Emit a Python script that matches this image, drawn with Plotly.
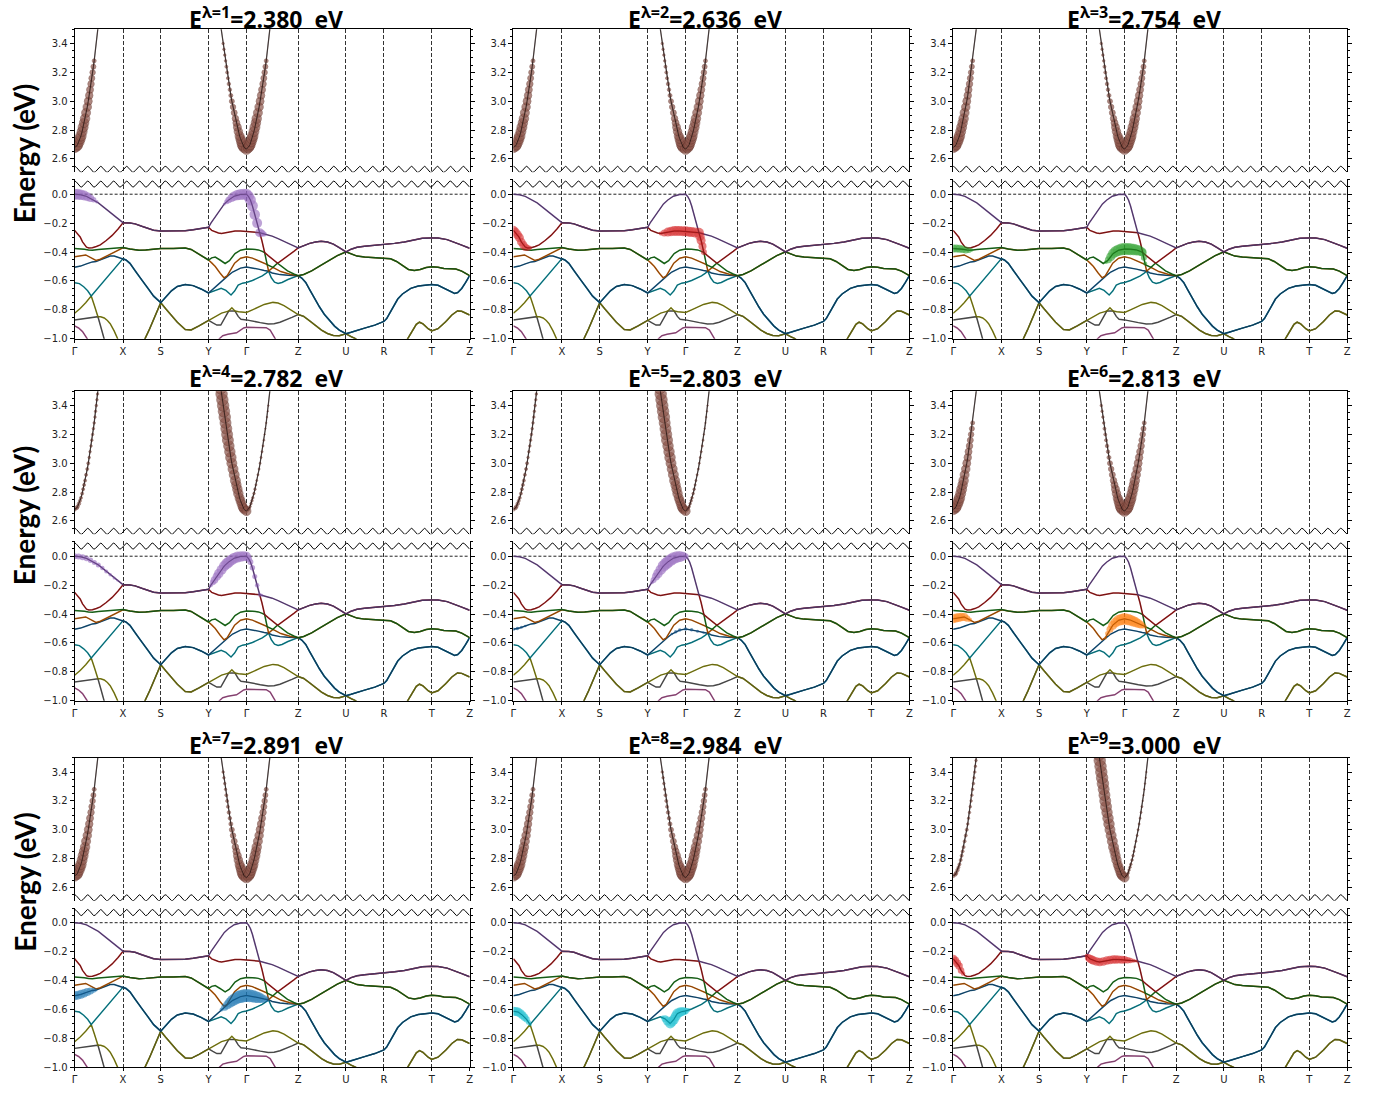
import numpy as np
import plotly.graph_objects as go

# ---------------- data ----------------
KPATH_POS = [0.0, 0.1225, 0.218, 0.339, 0.435, 0.566, 0.687, 0.783, 0.904, 1.0]
KPATH_LABELS = ["Γ", "X", "S", "Y", "Γ", "Z", "U", "R", "T", "Z"]
EXC_ENERGY = [2.380, 2.636, 2.754, 2.782, 2.803, 2.813, 2.891, 2.984, 3.000]

BAND_COLORS = ["#9467bd", "#d62728", "#2ca02c", "#ff7f0e", "#1f77b4",
               "#17becf", "#bcbd22", "#7f7f7f", "#e377c2"]
CB_COLOR = "#8c564b"

# shared (degenerate) segments
SEG_XSY_12 = [(0.14, -0.199), (0.153, -0.205), (0.17, -0.222), (0.186, -0.238), (0.20, -0.249),
              (0.218, -0.255), (0.24, -0.255), (0.26, -0.255), (0.28, -0.252), (0.30, -0.246),
              (0.32, -0.237), (0.339, -0.229)]
SEG_XSY_34 = [(0.14, -0.379), (0.163, -0.388), (0.18, -0.385), (0.20, -0.379), (0.218, -0.376),
              (0.25, -0.375), (0.28, -0.372), (0.295, -0.382), (0.31, -0.405), (0.325, -0.432),
              (0.339, -0.455)]
SEG_XSY_56 = [(0.13, -0.455), (0.14, -0.478), (0.153, -0.53), (0.17, -0.592), (0.186, -0.651),
              (0.20, -0.705), (0.218, -0.75), (0.23, -0.71), (0.245, -0.668), (0.26, -0.638),
              (0.28, -0.625), (0.30, -0.632), (0.32, -0.655), (0.339, -0.683)]
SEG_XSY_78 = [(0.178, -1.0), (0.19, -0.93), (0.20, -0.868), (0.21, -0.80), (0.218, -0.75),
              (0.23, -0.79), (0.245, -0.84), (0.26, -0.885), (0.28, -0.935), (0.295, -0.938),
              (0.315, -0.91), (0.339, -0.872)]
SEG_ZZ_12 = [(0.58, -0.355), (0.595, -0.34), (0.61, -0.33), (0.624, -0.326), (0.64, -0.33),
             (0.655, -0.345), (0.67, -0.37), (0.687, -0.399), (0.70, -0.38), (0.715, -0.367),
             (0.734, -0.36), (0.76, -0.354), (0.783, -0.35), (0.81, -0.34), (0.835, -0.33),
             (0.86, -0.315), (0.88, -0.305), (0.904, -0.302), (0.92, -0.303), (0.943, -0.314),
             (0.96, -0.33), (0.98, -0.352), (1.0, -0.374)]
SEG_ZZ_34 = [(0.58, -0.555), (0.60, -0.53), (0.624, -0.491), (0.645, -0.455), (0.665, -0.425),
             (0.687, -0.399), (0.70, -0.415), (0.715, -0.428), (0.734, -0.435), (0.76, -0.438),
             (0.783, -0.44), (0.80, -0.447), (0.815, -0.465), (0.83, -0.495), (0.845, -0.52),
             (0.86, -0.527), (0.875, -0.52), (0.89, -0.507), (0.904, -0.502), (0.92, -0.505),
             (0.935, -0.514), (0.95, -0.515), (0.965, -0.517), (0.98, -0.532), (1.0, -0.563)]
SEG_ZZ_56 = [(0.575, -0.58), (0.585, -0.61), (0.595, -0.66), (0.607, -0.72), (0.62, -0.78),
             (0.632, -0.83), (0.645, -0.875), (0.658, -0.912), (0.67, -0.94), (0.687, -0.965),
             (0.70, -0.955), (0.715, -0.94), (0.734, -0.926), (0.76, -0.905), (0.783, -0.88),
             (0.79, -0.86), (0.80, -0.81), (0.81, -0.757), (0.818, -0.725), (0.83, -0.69),
             (0.851, -0.651), (0.87, -0.635), (0.89, -0.626), (0.904, -0.624), (0.92, -0.63),
             (0.94, -0.655), (0.955, -0.677), (0.962, -0.686), (0.97, -0.68), (0.98, -0.652),
             (0.99, -0.61), (1.0, -0.563)]
SEG_ZZ_78 = [(0.58, -0.845), (0.595, -0.875), (0.61, -0.91), (0.625, -0.94), (0.64, -0.963),
             (0.655, -0.977), (0.67, -0.978), (0.687, -0.965), (0.70, -0.985), (0.712, -1.0),
             (0.74, -1.1), (0.82, -1.12), (0.843, -1.0), (0.855, -0.94), (0.865, -0.90),
             (0.873, -0.885), (0.882, -0.897), (0.895, -0.93), (0.904, -0.945), (0.92, -0.93),
             (0.94, -0.88), (0.955, -0.835), (0.969, -0.807), (0.98, -0.81), (1.0, -0.835)]

B1_GX = [(0, 0), (0.015, -0.004), (0.03, -0.015), (0.045, -0.035), (0.06, -0.06), (0.075, -0.093),
         (0.09, -0.128), (0.105, -0.162), (0.1225, -0.197)]
B1_YZ = [(0.345, -0.20), (0.354, -0.165), (0.365, -0.12), (0.379, -0.067), (0.39, -0.04),
         (0.404, -0.014), (0.42, -0.002), (0.435, 0), (0.44, -0.015), (0.445, -0.04), (0.45, -0.08),
         (0.456, -0.14), (0.462, -0.20), (0.4685, -0.266), (0.48, -0.275), (0.50, -0.29),
         (0.515, -0.307), (0.53, -0.328), (0.545, -0.345), (0.566, -0.371)]
B2_GX = [(0, -0.25), (0.007, -0.27), (0.014, -0.296), (0.02, -0.33), (0.025, -0.352), (0.03, -0.366),
         (0.036, -0.372), (0.045, -0.37), (0.055, -0.362), (0.065, -0.35), (0.08, -0.32),
         (0.095, -0.285), (0.11, -0.24), (0.1225, -0.197)]
B2_YZ = [(0.347, -0.25), (0.356, -0.262), (0.364, -0.268), (0.372, -0.272), (0.381, -0.268),
         (0.39, -0.262), (0.398, -0.258), (0.406, -0.255), (0.42, -0.255), (0.435, -0.257),
         (0.45, -0.262), (0.4685, -0.266), (0.474, -0.32), (0.481, -0.403), (0.49, -0.425),
         (0.505, -0.457), (0.5135, -0.477), (0.518, -0.47), (0.531, -0.445), (0.545, -0.415),
         (0.555, -0.395), (0.566, -0.371)]
B3_GX = [(0, -0.376), (0.015, -0.377), (0.025, -0.381), (0.035, -0.386), (0.045, -0.387),
         (0.06, -0.382), (0.08, -0.377), (0.10, -0.373), (0.1225, -0.369)]
B3_YZ = [(0.347, -0.44), (0.356, -0.435), (0.368, -0.455), (0.381, -0.479), (0.392, -0.46),
         (0.406, -0.41), (0.42, -0.387), (0.435, -0.379), (0.45, -0.38), (0.465, -0.385),
         (0.475, -0.395), (0.481, -0.403), (0.4875, -0.487), (0.495, -0.497), (0.502, -0.506),
         (0.5135, -0.477), (0.52, -0.49), (0.539, -0.53), (0.555, -0.552), (0.566, -0.563)]
B4_GX = [(0, -0.433), (0.014, -0.424), (0.028, -0.42), (0.042, -0.44), (0.054, -0.458),
         (0.065, -0.45), (0.08, -0.43), (0.095, -0.41), (0.107, -0.39), (0.1225, -0.37)]
B4_YZ = [(0.347, -0.475), (0.356, -0.50), (0.368, -0.545), (0.378, -0.578), (0.386, -0.565),
         (0.395, -0.52), (0.405, -0.477), (0.42, -0.443), (0.435, -0.433), (0.45, -0.442),
         (0.463, -0.457), (0.48, -0.479), (0.4875, -0.487), (0.491, -0.532), (0.502, -0.506),
         (0.522, -0.535), (0.545, -0.553), (0.566, -0.563)]
B5_GX = [(0, -0.505), (0.015, -0.497), (0.03, -0.482), (0.045, -0.468), (0.054, -0.466),
         (0.065, -0.455), (0.08, -0.436), (0.09, -0.427), (0.10, -0.427), (0.11, -0.435),
         (0.1225, -0.445)]
B5_YZ = [(0.35, -0.655), (0.36, -0.63), (0.37, -0.607), (0.38, -0.585), (0.39, -0.56), (0.40, -0.538),
         (0.41, -0.522), (0.42, -0.511), (0.435, -0.503), (0.45, -0.508), (0.465, -0.518),
         (0.48, -0.528), (0.491, -0.532), (0.50, -0.545), (0.52, -0.556), (0.54, -0.561),
         (0.566, -0.563)]
B6_GX = [(0, -0.612), (0.012, -0.618), (0.023, -0.64), (0.033, -0.668), (0.042, -0.704),
         (0.06, -0.645), (0.08, -0.58), (0.10, -0.515), (0.1225, -0.445)]
B6_YZ = [(0.35, -0.672), (0.36, -0.658), (0.371, -0.651), (0.383, -0.665), (0.396, -0.697),
         (0.405, -0.67), (0.414, -0.628), (0.425, -0.615), (0.435, -0.61), (0.45, -0.597),
         (0.463, -0.583), (0.475, -0.565), (0.485, -0.546), (0.491, -0.532), (0.498, -0.578),
         (0.506, -0.608), (0.515, -0.617), (0.525, -0.61), (0.54, -0.59), (0.555, -0.572),
         (0.566, -0.563)]
B7_GX = [(0, -0.823), (0.014, -0.79), (0.028, -0.75), (0.042, -0.704), (0.05, -0.77), (0.059, -0.847),
         (0.066, -0.848), (0.075, -0.856), (0.083, -0.873), (0.09, -0.895), (0.10, -0.945),
         (0.109, -1.0), (0.14, -1.15)]
B7_YZ = [(0.35, -0.855), (0.36, -0.84), (0.372, -0.822), (0.385, -0.812), (0.39, -0.808),
         (0.398, -0.785), (0.406, -0.808), (0.415, -0.812), (0.435, -0.818), (0.45, -0.80),
         (0.465, -0.78), (0.48, -0.762), (0.502, -0.748), (0.515, -0.752), (0.53, -0.77),
         (0.545, -0.795), (0.566, -0.832)]
B8_GX = [(0, -0.869), (0.02, -0.862), (0.04, -0.852), (0.059, -0.847), (0.066, -0.915), (0.075, -1.0),
         (0.09, -1.15), (0.14, -1.15)]
B8_YZ = [(0.35, -0.89), (0.36, -0.905), (0.37, -0.905), (0.38, -0.86), (0.39, -0.808), (0.398, -0.808),
         (0.406, -0.808), (0.414, -0.845), (0.421, -0.865), (0.435, -0.869), (0.45, -0.875),
         (0.47, -0.888), (0.49, -0.897), (0.505, -0.895), (0.52, -0.885), (0.535, -0.87),
         (0.55, -0.852), (0.566, -0.832)]
B9_ALL = [(0, -0.91), (0.01, -0.925), (0.02, -0.95), (0.027, -0.975), (0.032, -1.0), (0.04, -1.15),
          (0.35, -1.15), (0.366, -1.0), (0.375, -0.978), (0.388, -0.968), (0.40, -0.965),
          (0.41, -0.958), (0.42, -0.94), (0.428, -0.925), (0.435, -0.92), (0.45, -0.92),
          (0.47, -0.92), (0.485, -0.923), (0.495, -0.94), (0.502, -0.97), (0.508, -1.0),
          (0.52, -1.15), (1.0, -1.15)]

BANDS = [
    B1_GX + SEG_XSY_12 + B1_YZ + SEG_ZZ_12,
    B2_GX + SEG_XSY_12 + B2_YZ + SEG_ZZ_12,
    B3_GX + SEG_XSY_34 + B3_YZ + SEG_ZZ_34,
    B4_GX + SEG_XSY_34 + B4_YZ + SEG_ZZ_34,
    B5_GX + SEG_XSY_56 + B5_YZ + SEG_ZZ_56,
    B6_GX + SEG_XSY_56 + B6_YZ + SEG_ZZ_56,
    B7_GX + SEG_XSY_78 + B7_YZ + SEG_ZZ_78,
    B8_GX + SEG_XSY_78 + B8_YZ + SEG_ZZ_78,
    B9_ALL,
]

# conduction band: energy levels and k-distance from the Γ minimum for each branch
CB_E_LEVELS = [2.68, 2.69, 2.70, 2.72, 2.74, 2.76, 2.79, 2.82, 2.85, 2.88, 2.92, 2.96, 3.00,
               3.04, 3.08, 3.12, 3.16, 3.20, 3.24, 3.28, 3.32, 3.36, 3.40, 3.44, 3.48, 3.52]
CB_D_G0 = [0, 0.0055, 0.0075, 0.011, 0.0135, 0.016, 0.019, 0.0215, 0.024, 0.0265, 0.029, 0.032,
           0.0345, 0.037, 0.039, 0.0415, 0.0435, 0.0455, 0.0475, 0.0495, 0.0515, 0.053, 0.055,
           0.0565, 0.058, 0.0595]
CB_D_GL = [0.006, 0.008, 0.010, 0.0125, 0.015, 0.0175, 0.0205, 0.023, 0.0255, 0.028, 0.031, 0.034,
           0.037, 0.0395, 0.042, 0.0445, 0.047, 0.049, 0.051, 0.053, 0.055, 0.057, 0.059, 0.061,
           0.063, 0.065]
CB_D_GR = [0.005, 0.007, 0.009, 0.0115, 0.014, 0.016, 0.019, 0.0215, 0.024, 0.026, 0.029, 0.032,
           0.0345, 0.037, 0.0395, 0.042, 0.044, 0.046, 0.048, 0.050, 0.052, 0.054, 0.0555, 0.057,
           0.0585, 0.060]
CB_GAMMA_K = 0.435
CB_MIN_CENTER = 2.668

# conduction-band weights (marker diameter) per branch, two patterns
CB_W_A_G0 = [10.5, 10.5, 10.5, 10.5, 10.5, 10.5, 10, 10, 9.5, 9.5, 9, 8.5, 8, 7.5, 7, 6.5, 6, 5.5, 5, 4, 0, 0, 0, 0, 0, 0]
CB_W_A_GL = [10.5, 10.5, 10.5, 10, 9.5, 9, 8.5, 8, 7, 6.5, 6, 5.5, 5, 4, 3.5, 3.5, 3, 3, 3, 2.5, 2.5, 2.5, 2.5, 0, 0, 0]
CB_W_A_GR = [10.5, 10.5, 10.5, 10.5, 10.5, 10.5, 10, 10, 9.5, 9.5, 9, 8.5, 8, 7.5, 7, 6.5, 6, 5.5, 5, 4, 0, 0, 0, 0, 0, 0]
CB_W_A_MIN = 10.5
CB_W_B_G0 = [3.5, 3.5, 3.5, 3.5, 3, 3, 3, 3, 3, 3, 3, 3, 3, 2.5, 2.5, 2.5, 2.5, 2.5, 2.5, 2.5, 2.5, 2.5, 2.5, 2.5, 2.5, 2.5]
CB_W_B_GL = [9, 9, 9, 9, 9, 9, 9.5, 9.5, 9.5, 10, 10, 10, 10, 10.5, 10.5, 10.5, 11, 11, 11, 11, 11.5, 11.5, 11.5, 11.5, 11.5, 11.5]
CB_W_B_GR = [2.5, 2.5, 2.5, 2.5, 2.5, 2.5, 2.5, 2.5, 2, 2, 2, 2, 2, 2, 2, 2, 2, 1.5, 1.5, 1.5, 1.5, 1.5, 1.5, 0, 0, 0]
CB_W_B_MIN = 9
CB_TYPE = ["A", "A", "A", "B", "B", "A", "A", "A", "B"]

# valence fat-band weights per panel: (k, E, marker diameter)
FAT_P1 = [(0, 0, 11), (0.008, -0.001, 11), (0.016, -0.004, 10.5), (0.024, -0.009, 10), (0.032, -0.017, 9),
          (0.04, -0.028, 7.5), (0.048, -0.039, 5.5), (0.056, -0.053, 3.5),
          (0.379, -0.067, 3), (0.385, -0.052, 5), (0.39, -0.04, 6.5), (0.397, -0.027, 8), (0.404, -0.014, 9.5),
          (0.412, -0.006, 10.5), (0.42, -0.002, 11), (0.428, 0, 11), (0.435, 0, 11), (0.44, -0.015, 11),
          (0.445, -0.04, 11), (0.45, -0.08, 11), (0.456, -0.14, 10.5), (0.462, -0.20, 10),
          (0.4685, -0.266, 9), (0.474, -0.27, 7), (0.48, -0.275, 5)]
FAT_P2 = [(0, -0.25, 9), (0.005, -0.262, 9), (0.01, -0.28, 9), (0.015, -0.30, 9), (0.02, -0.33, 8.5),
          (0.025, -0.352, 8), (0.03, -0.366, 7.5), (0.036, -0.372, 6), (0.042, -0.371, 4),
          (0.372, -0.272, 4), (0.381, -0.268, 7), (0.39, -0.262, 9), (0.398, -0.258, 9.5), (0.406, -0.255, 10),
          (0.413, -0.255, 10), (0.42, -0.255, 10), (0.428, -0.256, 10), (0.435, -0.257, 10), (0.443, -0.26, 10),
          (0.45, -0.262, 10), (0.458, -0.264, 10), (0.4685, -0.266, 10), (0.471, -0.29, 9.5),
          (0.474, -0.32, 9), (0.4775, -0.36, 8), (0.481, -0.40, 6)]
FAT_P3 = [(0, -0.376, 8), (0.008, -0.376, 8), (0.016, -0.377, 8), (0.024, -0.38, 7.5), (0.032, -0.385, 7),
          (0.04, -0.387, 5.5), (0.047, -0.386, 3.5),
          (0.388, -0.468, 4), (0.394, -0.453, 7), (0.40, -0.432, 9), (0.406, -0.41, 10), (0.413, -0.396, 11),
          (0.42, -0.387, 11.5), (0.428, -0.381, 12), (0.435, -0.379, 12), (0.443, -0.379, 12), (0.45, -0.38, 12),
          (0.458, -0.382, 11.5), (0.465, -0.385, 11), (0.472, -0.39, 10), (0.478, -0.398, 9),
          (0.481, -0.403, 8), (0.484, -0.44, 6), (0.4875, -0.48, 4)]
FAT_P4 = [(0, 0, 6), (0.01, -0.002, 6), (0.02, -0.007, 6), (0.03, -0.015, 5.5), (0.04, -0.028, 5.5),
          (0.05, -0.043, 5), (0.06, -0.06, 5), (0.07, -0.082, 4.5), (0.08, -0.105, 4), (0.09, -0.128, 3.5),
          (0.10, -0.151, 3), (0.108, -0.168, 2),
          (0.345, -0.20, 4), (0.35, -0.18, 6), (0.354, -0.165, 7.5), (0.36, -0.14, 8.5), (0.365, -0.12, 9.5),
          (0.372, -0.093, 10), (0.379, -0.067, 10.5), (0.385, -0.052, 11), (0.39, -0.04, 11),
          (0.397, -0.026, 11), (0.404, -0.014, 11), (0.412, -0.006, 11), (0.42, -0.002, 10.5),
          (0.428, 0, 10), (0.435, 0, 9), (0.44, -0.015, 7), (0.445, -0.04, 6), (0.45, -0.08, 5.5),
          (0.456, -0.14, 5), (0.462, -0.20, 4.5), (0.4685, -0.266, 4), (0.474, -0.27, 3)]
FAT_P5 = [(0.35, -0.18, 4), (0.354, -0.165, 6), (0.36, -0.14, 8), (0.365, -0.12, 9.5), (0.372, -0.093, 10.5),
          (0.379, -0.067, 11.5), (0.385, -0.052, 12), (0.39, -0.04, 12), (0.397, -0.026, 12),
          (0.404, -0.014, 12), (0.412, -0.006, 11.5), (0.42, -0.002, 11), (0.428, 0, 9), (0.435, 0, 6)]
FAT_P5_EXTRA = [(0, -0.505, 3.5), (0.01, -0.50, 3.5), (0.02, -0.492, 3), (0.03, -0.482, 2.5),
                (0.40, -0.538, 2.5), (0.41, -0.522, 3.5), (0.42, -0.511, 3.5), (0.435, -0.503, 3.5),
                (0.45, -0.508, 3.5), (0.465, -0.518, 3), (0.48, -0.528, 2.5)]
FAT_P6 = [(0, -0.433, 9), (0.007, -0.428, 9), (0.014, -0.424, 9), (0.021, -0.421, 8.5), (0.028, -0.42, 8),
          (0.035, -0.43, 6.5), (0.042, -0.44, 4.5),
          (0.386, -0.565, 3), (0.392, -0.535, 5), (0.398, -0.505, 7), (0.405, -0.477, 9), (0.412, -0.458, 10),
          (0.42, -0.443, 11), (0.428, -0.437, 11.5), (0.435, -0.433, 11.5), (0.443, -0.437, 11.5),
          (0.45, -0.442, 11), (0.457, -0.45, 10.5), (0.463, -0.457, 10), (0.47, -0.466, 9),
          (0.476, -0.474, 7.5), (0.482, -0.481, 5.5), (0.4875, -0.487, 3.5)]
FAT_P7 = [(0, -0.505, 9), (0.008, -0.501, 9), (0.016, -0.495, 9), (0.024, -0.488, 8.5), (0.032, -0.48, 8),
          (0.04, -0.472, 7), (0.048, -0.467, 5), (0.054, -0.466, 3),
          (0.372, -0.60, 4), (0.38, -0.585, 7), (0.387, -0.568, 9), (0.394, -0.551, 10.5), (0.40, -0.538, 11.5),
          (0.407, -0.526, 12), (0.414, -0.516, 12.5), (0.42, -0.511, 13), (0.428, -0.506, 13),
          (0.435, -0.503, 13), (0.443, -0.505, 13), (0.45, -0.508, 12.5), (0.458, -0.513, 12),
          (0.465, -0.518, 11), (0.472, -0.523, 9.5), (0.48, -0.528, 7.5), (0.487, -0.531, 5)]
FAT_P8 = [(0, -0.612, 9), (0.006, -0.614, 9), (0.012, -0.618, 9), (0.018, -0.628, 8.5), (0.023, -0.64, 8),
          (0.028, -0.653, 7.5), (0.033, -0.668, 6.5), (0.038, -0.688, 5), (0.042, -0.704, 3.5),
          (0.377, -0.656, 4), (0.383, -0.665, 7), (0.389, -0.68, 9), (0.396, -0.697, 10), (0.40, -0.685, 10),
          (0.405, -0.67, 10), (0.41, -0.647, 10), (0.414, -0.628, 10), (0.42, -0.62, 9.5),
          (0.425, -0.615, 9), (0.43, -0.612, 8), (0.435, -0.61, 6.5), (0.442, -0.604, 4)]
FAT_P9 = [(0, -0.25, 8), (0.005, -0.262, 8), (0.01, -0.28, 8), (0.015, -0.30, 7.5), (0.02, -0.33, 6.5),
          (0.025, -0.352, 4.5),
          (0.339, -0.229, 4), (0.343, -0.24, 7), (0.347, -0.25, 8), (0.352, -0.257, 8.5), (0.356, -0.262, 8.5),
          (0.364, -0.268, 8.5), (0.372, -0.272, 8.5), (0.381, -0.268, 8.5), (0.39, -0.262, 8.5),
          (0.398, -0.258, 8.5), (0.406, -0.255, 8.5), (0.413, -0.255, 8.5), (0.42, -0.255, 8),
          (0.428, -0.256, 8), (0.435, -0.257, 7.5), (0.443, -0.26, 6.5), (0.45, -0.262, 5.5),
          (0.458, -0.264, 4), (0.465, -0.265, 3)]
FAT_SETS = [FAT_P1, FAT_P2, FAT_P3, FAT_P4, FAT_P5, FAT_P6, FAT_P7, FAT_P8, FAT_P9]
FAT_COLORS = ["#9467bd", "#d62728", "#2ca02c", "#9467bd", "#9467bd", "#ff7f0e", "#1f77b4", "#17becf", "#d62728"]

# axis break decoration
BREAK_PERIODS = 30.5
BREAK_UP_CENTER, BREAK_LO_CENTER, BREAK_AMP = 2.528, 0.070, 0.021

UP_RANGE = [2.507, 3.5]
LO_RANGE = [-1.0, 0.105]

# ---------------- layout geometry (pixels) ----------------
W, H = 1384, 1096
COL_L = [72, 513, 955]
COL_R = [469, 911, 1351]
ROW_T = [29.3, 393.3, 761.8]
TITLE_BOX_TOP = [0.0, 361.0, 730.0]
UP_H, GAP, LO_H = 144.0, 6.7, 160.7

TICKFONT = dict(family="DejaVu Sans", size=10, color="#222222")


def darken(hex_color, f):
    h = hex_color.lstrip("#")
    r, g, b = (int(h[i:i + 2], 16) for i in (0, 2, 4))
    return f"rgb({int(r * f)},{int(g * f)},{int(b * f)})"


fig = go.Figure()
layout = dict(width=W, height=H, autosize=False, margin=dict(l=0, r=0, t=0, b=0),
              paper_bgcolor="white", plot_bgcolor="white", showlegend=False,
              hovermode=False, shapes=[], annotations=[])


def axname(prefix, n):
    return prefix if n == 1 else f"{prefix}{n}"


def xy(points):
    return [q[0] for q in points], [q[1] for q in points]


for p in range(9):
    r, c = divmod(p, 3)
    lo, up = 2 * p + 1, 2 * p + 2
    xd = [COL_L[c] / W, COL_R[c] / W]
    ut = ROW_T[r]
    ub = ut + UP_H
    lt = ub + GAP
    lb = lt + LO_H
    yd_up = [1 - ub / H, 1 - ut / H]
    yd_lo = [1 - lb / H, 1 - lt / H]

    xcommon = dict(domain=xd, range=[0, 1], tickmode="array", tickvals=KPATH_POS, ticktext=KPATH_LABELS,
                   showgrid=True, gridcolor="#333333", griddash="4px,2px", gridwidth=1, zeroline=False,
                   showline=True, linecolor="black", linewidth=1, fixedrange=True)
    layout[axname("xaxis", lo)] = dict(xcommon, anchor=axname("y", lo), side="bottom", ticks="outside",
                                       ticklen=3, tickcolor="black", tickfont=TICKFONT)
    layout[axname("xaxis", up)] = dict(xcommon, anchor=axname("y", up), side="top", ticks="",
                                       showticklabels=False)
    ycommon = dict(tickmode="linear", dtick=0.2, tickformat=".1f", ticks="outside", ticklen=4,
                   tickcolor="black", mirror="ticks", showline=True, linecolor="black", linewidth=1,
                   showgrid=False, zeroline=False, tickfont=TICKFONT, fixedrange=True)
    layout[axname("yaxis", lo)] = dict(ycommon, domain=yd_lo, range=LO_RANGE, anchor=axname("x", lo), tick0=0,
                                       minor=dict(ticks="outside", ticklen=2, dtick=0.05, tick0=0,
                                                  tickcolor="black", showgrid=False))
    layout[axname("yaxis", up)] = dict(ycommon, domain=yd_up, range=UP_RANGE, anchor=axname("x", up), tick0=2.6,
                                       minor=dict(ticks="outside", ticklen=2, dtick=0.05, tick0=2.6,
                                                  tickcolor="black", showgrid=False))

    xa_lo, ya_lo = axname("x", lo), axname("y", lo)
    xa_up, ya_up = axname("x", up), axname("y", up)

    # zero line
    layout["shapes"].append(dict(type="line", xref=f"{xa_lo} domain", yref=ya_lo, x0=0, x1=1, y0=0, y1=0,
                                 line=dict(color="#222222", width=1, dash="3px,2px"), layer="below"))

    # coloured valence bands (drawn lowest band first so upper band colour shows on degeneracies)
    for bi in range(len(BANDS) - 1, -1, -1):
        bx, by = xy(BANDS[bi])
        fig.add_trace(go.Scatter(x=bx, y=by, mode="lines", xaxis=xa_lo, yaxis=ya_lo,
                                 line=dict(color=darken(BAND_COLORS[bi], 0.72), width=1.5), hoverinfo="skip"))

    # valence fat bands
    fk, fe = xy(FAT_SETS[p])
    fs = [q[2] for q in FAT_SETS[p]]
    fig.add_trace(go.Scatter(x=fk, y=fe, mode="markers", xaxis=xa_lo, yaxis=ya_lo, opacity=0.85,
                             marker=dict(size=fs, color=FAT_COLORS[p], line=dict(width=0)), hoverinfo="skip"))
    if p == 4:
        ek, ee = xy(FAT_P5_EXTRA)
        es = [q[2] for q in FAT_P5_EXTRA]
        fig.add_trace(go.Scatter(x=ek, y=ee, mode="markers", xaxis=xa_lo, yaxis=ya_lo, opacity=0.9,
                                 marker=dict(size=es, color="#1f5f9a", line=dict(width=0)), hoverinfo="skip"))

    # dark overlay on all valence bands
    ox, oy = [], []
    for band in BANDS:
        bx, by = xy(band)
        ox += bx + [None]
        oy += by + [None]
    fig.add_trace(go.Scatter(x=ox, y=oy, mode="lines", xaxis=xa_lo, yaxis=ya_lo, opacity=0.4,
                             line=dict(color="black", width=0.6), hoverinfo="skip"))

    # conduction band
    k_g0 = [0 + d for d in CB_D_G0]
    k_gl = [CB_GAMMA_K - d for d in CB_D_GL]
    k_gr = [CB_GAMMA_K + d for d in CB_D_GR]
    cx = k_g0 + [None] + k_gl[::-1] + [CB_GAMMA_K] + k_gr
    cy = CB_E_LEVELS + [None] + CB_E_LEVELS[::-1] + [CB_MIN_CENTER] + CB_E_LEVELS
    fig.add_trace(go.Scatter(x=cx, y=cy, mode="lines", xaxis=xa_up, yaxis=ya_up,
                             line=dict(color="#8a7a78", width=1.3), hoverinfo="skip"))
    if CB_TYPE[p] == "A":
        w0, wl, wr, wm = CB_W_A_G0, CB_W_A_GL, CB_W_A_GR, CB_W_A_MIN
    else:
        w0, wl, wr, wm = CB_W_B_G0, CB_W_B_GL, CB_W_B_GR, CB_W_B_MIN
    mx = k_g0 + k_gl + [CB_GAMMA_K] + k_gr
    my = CB_E_LEVELS + CB_E_LEVELS + [CB_MIN_CENTER] + CB_E_LEVELS
    ms = list(w0) + list(wl) + [wm] + list(wr)
    fig.add_trace(go.Scatter(x=mx, y=my, mode="markers", xaxis=xa_up, yaxis=ya_up, opacity=1.0,
                             marker=dict(size=ms, color=CB_COLOR, line=dict(width=0.7, color="#6a3a30")),
                             hoverinfo="skip"))
    fig.add_trace(go.Scatter(x=cx, y=cy, mode="lines", xaxis=xa_up, yaxis=ya_up, opacity=0.7,
                             line=dict(color="black", width=0.8), hoverinfo="skip"))

    # axis-break wavy marks
    kw = np.linspace(0, 1, 900)
    wave = np.cos(2 * np.pi * BREAK_PERIODS * kw)
    fig.add_trace(go.Scatter(x=kw, y=BREAK_UP_CENTER + BREAK_AMP * wave, mode="lines", xaxis=xa_up,
                             yaxis=ya_up, line=dict(color="black", width=1), hoverinfo="skip"))
    fig.add_trace(go.Scatter(x=kw, y=BREAK_LO_CENTER + BREAK_AMP * wave, mode="lines", xaxis=xa_lo,
                             yaxis=ya_lo, line=dict(color="black", width=1), hoverinfo="skip"))

    # title
    cxp = (COL_L[c] + COL_R[c]) / 2 - 6
    layout["annotations"].append(dict(
        text=f"<b>E<sup>λ={p + 1}</sup>={EXC_ENERGY[p]:.3f}\u00a0 eV</b>",
        x=cxp / W, y=1 - TITLE_BOX_TOP[r] / H, xref="paper", yref="paper", showarrow=False,
        xanchor="center", yanchor="top", borderpad=0, font=dict(family="Open Sans", size=23, color="black")))

for r in range(3):
    layout["annotations"].append(dict(
        text="<b>Energy (eV)</b>", textangle=-90, x=22 / W, y=1 - (ROW_T[r] + 125) / H,
        xref="paper", yref="paper", showarrow=False, xanchor="center", yanchor="middle",
        font=dict(family="Lato", size=28, color="black")))

fig.update_layout(**layout)
fig.write_html("out.html", include_plotlyjs=True,
               config={"displayModeBar": False, "staticPlot": True},
               post_script="document.body.style.margin='0px';document.body.style.overflow='hidden';")
